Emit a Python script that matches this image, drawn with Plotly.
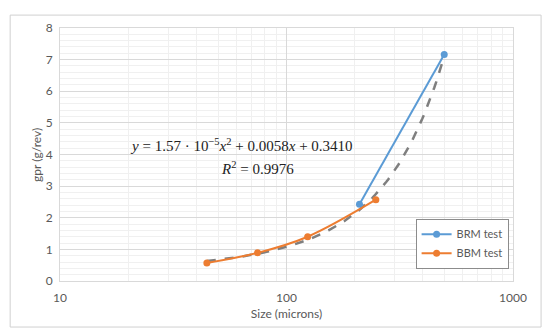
import numpy as np
import plotly.graph_objects as go

# Data
brm_x = [210, 497]
brm_y = [2.43, 7.16]
bbm_x = [44.5, 74.5, 124, 248]
bbm_y = [0.57, 0.89, 1.40, 2.57]

# Trendline coefficients, as printed on the chart
coef_a, coef_b, coef_c = 1.57e-5, 0.0058, 0.3410
trend_x = np.logspace(np.log10(44.5), np.log10(497), 120)
trend_y = coef_a * trend_x**2 + coef_b * trend_x + coef_c

y_ticks = [0, 1, 2, 3, 4, 5, 6, 7, 8]
x_ticks = [10, 100, 1000]

BLUE = "#5B9BD5"
ORANGE = "#ED7D31"
GRAY_TXT = "#595959"
FONT = "Lato, Liberation Sans, sans-serif"

fig = go.Figure()
fig.add_trace(go.Scatter(x=trend_x, y=trend_y, mode="lines",
                         line=dict(color="#7F7F7F", width=2.5, dash="dash"),
                         showlegend=False, hoverinfo="skip"))
fig.add_trace(go.Scatter(x=brm_x, y=brm_y, mode="lines+markers", name="BRM test",
                         line=dict(color=BLUE, width=2),
                         marker=dict(color=BLUE, size=7)))
fig.add_trace(go.Scatter(x=bbm_x, y=bbm_y, mode="lines+markers", name="BBM test",
                         line=dict(color=ORANGE, width=2, shape="spline"),
                         marker=dict(color=ORANGE, size=7)))

# page has 8px body margin; plot area at page x 60..513.5, y 28..281
fig.update_layout(
    width=534, height=320,
    margin=dict(l=52, r=28.5, t=20, b=47),
    paper_bgcolor="white", plot_bgcolor="white",
    font=dict(family=FONT, color=GRAY_TXT, size=12),
    legend=dict(x=0.785, y=0.2465, xanchor="left", yanchor="top",
                bordercolor="#8c8c8c", borderwidth=1,
                font=dict(size=11, color=GRAY_TXT),
                bgcolor="white", tracegroupgap=0, itemwidth=30),
    xaxis=dict(type="log", range=[1, 3], tickvals=x_ticks,
               ticktext=[str(v) for v in x_ticks],
               showgrid=True, gridcolor="#d9d9d9", gridwidth=1,
               minor=dict(showgrid=True, gridcolor="#f0f0f0", gridwidth=1,
                          dtick="D1"),
               showline=True, linecolor="#d9d9d9", mirror=True,
               ticks="", ticklabelstandoff=6, automargin=False,
               title=dict(text="Size (microns)", standoff=5,
                          font=dict(size=12, color=GRAY_TXT)),
               zeroline=False),
    yaxis=dict(range=[0, 8], tickvals=y_ticks,
               showgrid=True, gridcolor="#d9d9d9", gridwidth=1,
               minor=dict(showgrid=True, gridcolor="#f0f0f0", gridwidth=1,
                          dtick=0.2),
               showline=True, linecolor="#d9d9d9", mirror=True,
               ticks="", ticklabelstandoff=4, automargin=False,
               zeroline=False),
)

# y-axis title placed as an annotation for exact position
fig.add_annotation(xref="paper", yref="paper", x=-0.052, y=0.5,
                   text="gpr (g/rev)", textangle=-90, showarrow=False,
                   xanchor="center", yanchor="middle",
                   font=dict(size=12, color=GRAY_TXT, family=FONT))

# outer chart-area border
fig.add_shape(type="rect", xref="paper", yref="paper",
              x0=-0.110, x1=1.062, y0=-0.182, y1=1.051,
              line=dict(color="#d0d0d0", width=1), fillcolor="rgba(0,0,0,0)",
              layer="above")

SERIF = "Liberation Serif, DejaVu Serif, serif"
fig.add_annotation(xref="paper", yref="paper", x=(242 - 60) / 453.5, y=(281 - 145) / 253,
                   text="<i>y</i> = 1.57 · 10<sup>−5</sup><i>x</i><sup>2</sup> + 0.0058<i>x</i> + 0.3410",
                   showarrow=False, font=dict(family=SERIF, size=15, color="#222222"))
fig.add_annotation(xref="paper", yref="paper", x=(258 - 60) / 453.5, y=(281 - 168) / 253,
                   text="<i>R</i><sup>2</sup> = 0.9976",
                   showarrow=False, font=dict(family=SERIF, size=15, color="#222222"))

fig.write_html("out.html")
